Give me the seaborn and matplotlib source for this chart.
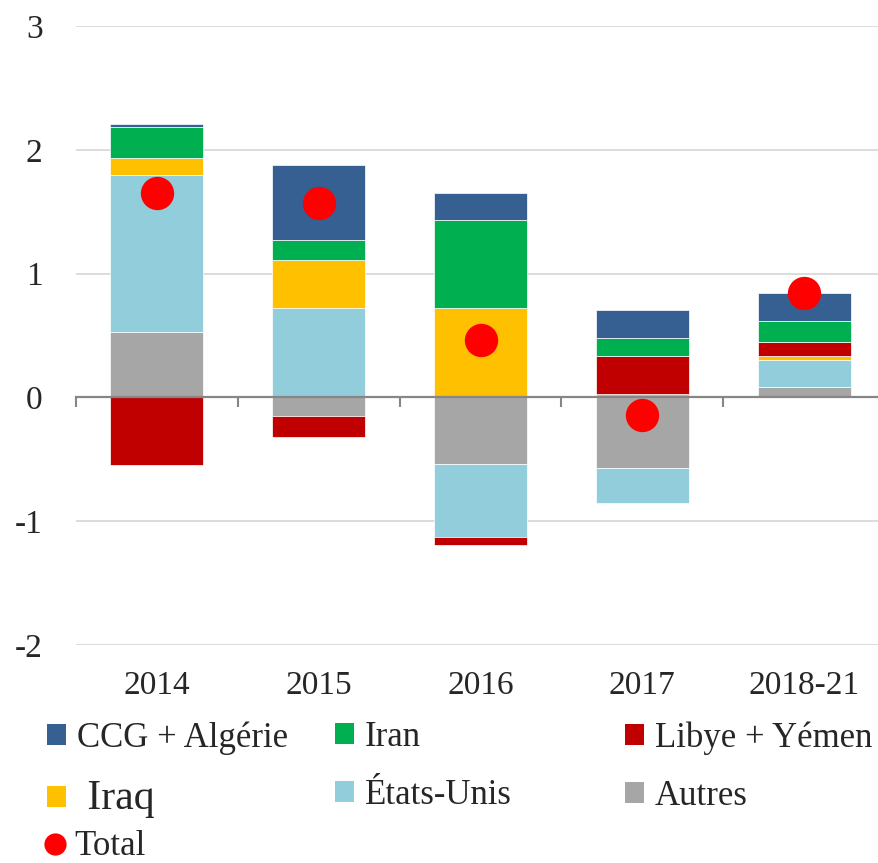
import numpy as np
import matplotlib
matplotlib.use("Agg")
import matplotlib.pyplot as plt
from matplotlib.patches import Patch
from matplotlib.lines import Line2D
import seaborn as sns

# Data
periods = ["2014", "2015", "2016", "2017", "2018-21"]
autres = [0.53, -0.15, -0.54, -0.57, 0.086]
etats_unis = [1.27, 0.72, -0.59, -0.28, 0.214]
iraq = [0.135, 0.39, 0.72, 0.027, 0.035]
libye_yemen = [-0.55, -0.17, -0.06, 0.306, 0.116]
iran = [0.25, 0.16, 0.71, 0.145, 0.165]
ccg_algerie = [0.02, 0.61, 0.225, 0.228, 0.23]
total = [1.65, 1.57, 0.46, -0.14, 0.845]
ytick_vals = [-2, -1, 0, 1, 2, 3]
ytick_labels = ["-2", "-1", "0", "1", "2", "3"]

# stacking order from zero outward
series = [
    ("Autres", autres, "#A6A6A6"),
    ("États-Unis", etats_unis, "#92CDDC"),
    ("Iraq", iraq, "#FFC000"),
    ("Libye + Yémen", libye_yemen, "#C00000"),
    ("Iran", iran, "#00B050"),
    ("CCG + Algérie", ccg_algerie, "#376092"),
]

sns.set_style("white")
plt.rcParams["font.family"] = ["Liberation Serif", "DejaVu Serif"]
plt.rcParams["axes.unicode_minus"] = False

fig = plt.figure(figsize=(8.79, 8.63), dpi=100)
ax = fig.add_axes([76 / 879, 1 - 645 / 863, 809 / 879, 619 / 863])

pos_base = np.zeros(len(periods))
neg_base = np.zeros(len(periods))
for name, vals, col in series:
    vals = np.array(vals)
    bottoms = np.where(vals >= 0, pos_base, neg_base)
    sns.barplot(x=periods, y=vals, bottom=bottoms, color=col, saturation=1,
                width=0.575, errorbar=None, edgecolor="white", linewidth=0.5,
                zorder=2, ax=ax)
    pos_base += np.clip(vals, 0, None)
    neg_base += np.clip(vals, None, 0)

sns.stripplot(x=periods, y=total, jitter=False, color="#FF0000", size=24,
              linewidth=0, zorder=5, ax=ax)

ax.set_xlim(-0.5, 4.5)
ax.set_ylim(-2, 3)
ax.set_yticks(ytick_vals)
ax.set_yticklabels(ytick_labels)
ax.yaxis.grid(True, color="#D9D9D9", linewidth=1.3, zorder=0)
ax.xaxis.grid(False)
ax.set_axisbelow(True)
ax.set_xlabel("")
ax.set_ylabel("")

for s in ["left", "right", "bottom"]:
    ax.spines[s].set_visible(False)
ax.spines["top"].set_visible(True)
ax.spines["top"].set_position(("data", 0))
ax.spines["top"].set_color("#868686")
ax.spines["top"].set_linewidth(1.6)
ax.spines["top"].set_zorder(4)

ax.set_xticks(np.arange(-0.5, 5, 1), minor=True)
ax.tick_params(axis="x", which="minor", top=True, bottom=False, direction="in",
               length=7, width=1.5, color="#868686")
ax.tick_params(axis="x", which="major", top=False, bottom=True, length=0,
               pad=18, labelsize=24)
ax.tick_params(axis="y", length=0, pad=24, labelsize=24)

# legend, one block at a time
cols = dict((n, c) for n, v, c in series)
def sq(n):
    return Patch(facecolor=cols[n], edgecolor="none", label=n)

dot = Line2D([], [], marker="o", linestyle="none", markersize=16,
             markerfacecolor="#FF0000", markeredgewidth=0, label="Total")
blocks = [
    ([sq("CCG + Algérie"), sq("Iraq")], 47, 721),
    ([sq("Iran"), sq("États-Unis")], 335, 721),
    ([sq("Libye + Yémen"), sq("Autres")], 625, 721),
    ([dot], 45, 830),
]
for handles, xpx, ypx in blocks:
    leg = fig.legend(handles=handles, loc="upper left",
                     bbox_to_anchor=(xpx / 879, 1 - ypx / 863), frameon=False,
                     fontsize=25, handlelength=0.55, handleheight=0.55,
                     handletextpad=0.3, labelspacing=0.72, borderpad=0,
                     borderaxespad=0)
    for t in leg.get_texts():
        if t.get_text() == "Iraq":
            t.set_fontsize(30)
            t.set_text(" Iraq")

fig.savefig("out.png", dpi=100)
